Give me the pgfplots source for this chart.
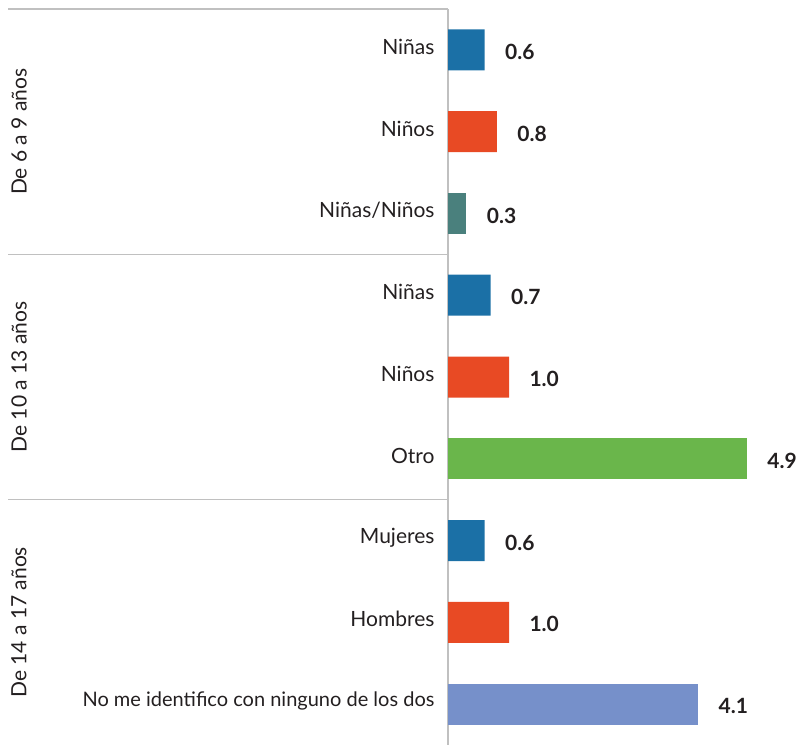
\documentclass[border=0pt]{standalone}
\usepackage{fontspec}
\setmainfont{Lato}
\usepackage{pgfplots}
\pgfplotsset{compat=1.18}
\usetikzlibrary{calc}
\definecolor{cblue}{RGB}{27,112,166}
\definecolor{corange}{RGB}{232,74,36}
\definecolor{cteal}{RGB}{74,128,125}
\definecolor{cgreen}{RGB}{106,182,75}
\definecolor{cperi}{RGB}{118,144,202}
\definecolor{labelc}{RGB}{35,31,32}
\definecolor{linec}{RGB}{192,192,192}
\begin{document}
\begin{tikzpicture}
\path[use as bounding box] (0,0) rectangle (799pt,745pt);
\begin{axis}[
  at={(448pt,0pt)}, anchor=south west,
  scale only axis, width=351pt, height=736pt,
  xmin=0, xmax=5.754, ymin=-0.5, ymax=8.5, y dir=reverse,
  hide x axis, axis y line*=left,
  y axis line style={draw=linec, line width=1.5pt},
  ytick={0,...,8},
  yticklabels={Niñas, Niños, Niñas/Niños, Niñas, Niños, Otro, Mujeres, Hombres, {\fontsize{20}{22}\selectfont No me identifico con ninguno de los dos}},
  major tick length=0pt,
  yticklabel style={font=\fontsize{21}{24}\selectfont, text=labelc, xshift=-10pt, yshift=3pt},
  xbar, bar shift=0pt, bar width=41pt,
  clip=false,
  nodes near coords, point meta=x,
  every node near coord/.append style={font=\fontsize{21}{24}\selectfont\bfseries, text=labelc, anchor=west, xshift=17pt, yshift=-2pt,
    /pgf/number format/fixed, /pgf/number format/fixed zerofill, /pgf/number format/precision=1, /pgf/number format/assume math mode=true},
]
\addplot[fill=cblue, draw=none] coordinates {(0.6,0) (0.7,3) (0.6,6)};
\addplot[fill=corange, draw=none] coordinates {(0.8,1) (1.0,4) (1.0,7)};
\addplot[fill=cteal, draw=none] coordinates {(0.3,2)};
\addplot[fill=cgreen, draw=none] coordinates {(4.9,5)};
\addplot[fill=cperi, draw=none] coordinates {(4.1,8)};
\draw[linec, line width=1.5pt] (axis cs:0,-0.5) -- ++(-440pt,0pt);
\draw[linec, line width=1.5pt] (axis cs:0,2.5) -- ++(-440pt,0pt);
\draw[linec, line width=1.5pt] (axis cs:0,5.5) -- ++(-440pt,0pt);
\node[rotate=90, font=\fontsize{21}{24}\selectfont, text=labelc] at ($(axis cs:0,1)+(-429pt,0pt)$) {De 6 a 9 años};
\node[rotate=90, font=\fontsize{21}{24}\selectfont, text=labelc] at ($(axis cs:0,4)+(-429pt,0pt)$) {De 10 a 13 años};
\node[rotate=90, font=\fontsize{21}{24}\selectfont, text=labelc] at ($(axis cs:0,7)+(-429pt,0pt)$) {De 14 a 17 años};
\end{axis}
\end{tikzpicture}
\end{document}
